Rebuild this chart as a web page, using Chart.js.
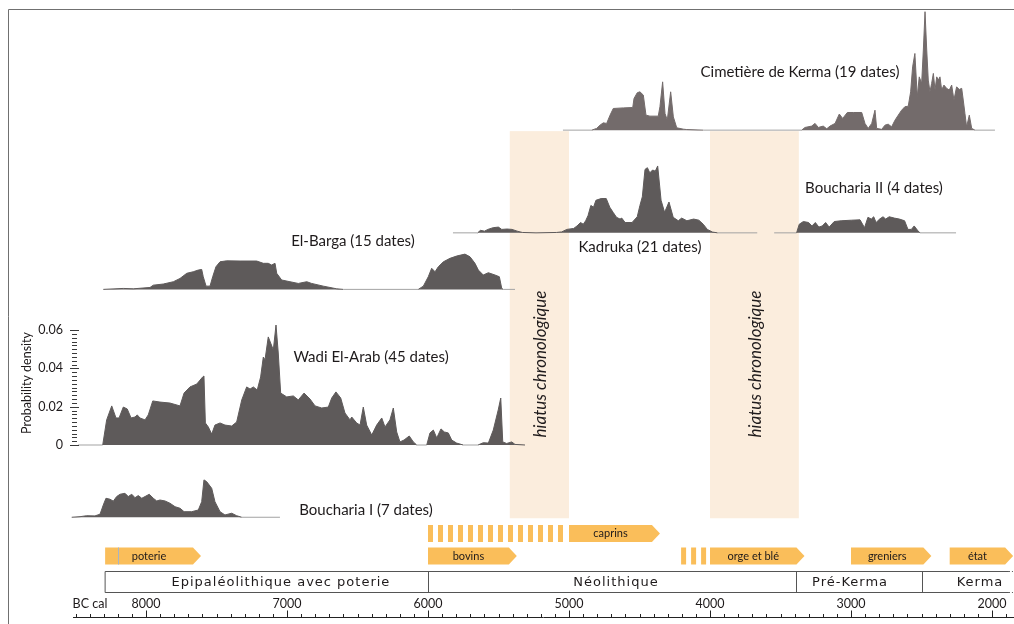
<!DOCTYPE html>
<html>
<head>
<meta charset="utf-8">
<script src="https://cdn.jsdelivr.net/npm/chart.js@4.4.0/dist/chart.umd.min.js"></script>
<style>
  html, body { margin: 0; padding: 0; background: #fff; }
  #wrap { width: 1014px; height: 624px; }
</style>
</head>
<body>
<div id="wrap"><canvas id="chart" width="1014" height="624"></canvas></div>
<script>
// summed probability densities, [year BC cal, density]
var kerma = [[5043,0],[4839,0],[4804,0.0009],[4780,0.0026],[4757,0.0038],[4733,0.0035],[4709,0.0078],[4686,0.0113],[4615,0.0116],[4548,0.0118],[4539,0.0165],[4516,0.0195],[4497,0.0200],[4473,0.0183],[4454,0.0078],[4426,0.0073],[4367,0.0073],[4355,0.0122],[4336,0.0252],[4319,0.0087],[4303,0.0052],[4279,0.0200],[4260,0.0069],[4236,0.0012],[4189,0.0005],[4165,0.0003],[4048,0],[3350,0],[3326,0.0014],[3279,0.0021],[3255,0.0035],[3232,0.0014],[3197,0.0021],[3172,0.0007],[3149,0.0021],[3113,0.0035],[3083,0.0084],[3059,0.0061],[3026,0.0092],[2984,0.0092],[2924,0.0092],[2901,0.0035],[2878,0.0009],[2853,0.0035],[2830,0.0104],[2818,0.0009],[2782,0.0004],[2759,0.0026],[2736,0.0031],[2712,0.0017],[2688,0.0052],[2665,0.0078],[2641,0.0104],[2618,0.0122],[2594,0.0125],[2577,0.0200],[2563,0.0330],[2547,0.0400],[2530,0.0174],[2516,0.0278],[2499,0.0244],[2487,0.0418],[2475,0.0618],[2463,0.0418],[2452,0.0261],[2440,0.0200],[2428,0.0244],[2416,0.0296],[2404,0.0209],[2392,0.0278],[2381,0.0261],[2369,0.0278],[2357,0.0209],[2341,0.0235],[2322,0.0218],[2303,0.0209],[2286,0.0235],[2270,0.0157],[2251,0.0226],[2232,0.0212],[2215,0.0218],[2204,0.0157],[2192,0.0087],[2180,0.0017],[2161,0.0078],[2144,0.0009],[2121,0],[1979,0]];
var kadruka = [[5823,0],[5648,0],[5628,0.0013],[5599,0.0009],[5575,0.0018],[5538,0.0027],[5501,0.0030],[5477,0.0018],[5440,0.0020],[5404,0.0018],[5368,0.0009],[5331,0.0002],[5234,0],[5088,0.0002],[5052,0.0005],[5015,0.0018],[4967,0.0023],[4943,0.0036],[4918,0.0054],[4899,0.0045],[4882,0.0063],[4865,0.0090],[4845,0.0143],[4826,0.0134],[4809,0.0170],[4772,0.0179],[4736,0.0179],[4711,0.0134],[4687,0.0107],[4663,0.0081],[4638,0.0072],[4626,0.0077],[4602,0.0054],[4553,0.0054],[4516,0.0084],[4497,0.0143],[4480,0.0188],[4461,0.0331],[4444,0.0340],[4427,0.0313],[4407,0.0328],[4388,0.0322],[4371,0.0349],[4347,0.0170],[4322,0.0107],[4291,0.0161],[4261,0.0081],[4225,0.0063],[4201,0.0077],[4164,0.0063],[4116,0.0072],[4079,0.0066],[4048,0.0045],[4019,0.0018],[3982,0.0004],[3946,0],[3665,0]];
var boucharia2 = [[3545,0],[3386,0],[3367,0.0045],[3338,0.0059],[3301,0.0054],[3277,0.0036],[3253,0.0054],[3228,0.0030],[3204,0.0036],[3180,0.0054],[3155,0.0030],[3119,0.0059],[3070,0.0063],[2997,0.0066],[2936,0.0068],[2904,0.0027],[2880,0.0081],[2856,0.0072],[2839,0.0084],[2822,0.0054],[2797,0.0072],[2773,0.0084],[2754,0.0072],[2729,0.0084],[2693,0.0077],[2657,0.0072],[2620,0.0063],[2596,0.0018],[2572,0.0018],[2552,0.0036],[2528,0.0013],[2511,0],[2255,0]];
var elBarga = [[8303,0],[8161,0.0005],[8090,0.0003],[7972,0.0010],[7948,0.0022],[7877,0.0028],[7806,0.0040],[7759,0.0057],[7711,0.0084],[7665,0.0092],[7629,0.0101],[7605,0.0104],[7594,0.0066],[7574,0.0017],[7546,0.0017],[7527,0.0066],[7504,0.0118],[7475,0.0144],[7428,0.0149],[7333,0.0148],[7215,0.0148],[7168,0.0136],[7133,0.0136],[7109,0.0127],[7085,0.0136],[7073,0.0084],[7038,0.0049],[6979,0.0040],[6920,0.0031],[6860,0.0040],[6825,0.0031],[6743,0.0017],[6648,0.0003],[6601,0],[6069,0],[6033,0.0017],[5998,0.0066],[5974,0.0110],[5950,0.0092],[5927,0.0118],[5891,0.0144],[5844,0.0162],[5797,0.0174],[5738,0.0184],[5702,0.0170],[5667,0.0136],[5643,0.0101],[5608,0.0075],[5572,0.0087],[5525,0.0075],[5494,0.0066],[5477,0.0005],[5466,0],[5383,0]];
var wadiElArab = [[8482,0],[8307,0],[8279,0.0131],[8243,0.0204],[8213,0.0141],[8191,0.0141],[8161,0.0198],[8133,0.0188],[8106,0.0141],[8078,0.0146],[8062,0.0157],[8043,0.0141],[8007,0.0131],[7984,0.0157],[7952,0.0230],[7901,0.0224],[7830,0.0219],[7759,0.0204],[7730,0.0271],[7688,0.0303],[7640,0.0318],[7598,0.0355],[7589,0.0360],[7579,0.0115],[7558,0.0094],[7534,0.0057],[7511,0.0104],[7475,0.0115],[7440,0.0104],[7392,0.0099],[7357,0.0120],[7321,0.0235],[7286,0.0303],[7262,0.0292],[7239,0.0303],[7211,0.0287],[7187,0.0355],[7168,0.0459],[7156,0.0444],[7133,0.0564],[7116,0.0532],[7097,0.0496],[7078,0.0626],[7062,0.0480],[7045,0.0271],[7002,0.0251],[6955,0.0256],[6920,0.0235],[6879,0.0271],[6837,0.0240],[6801,0.0204],[6754,0.0193],[6707,0.0198],[6683,0.0245],[6653,0.0277],[6619,0.0245],[6589,0.0167],[6553,0.0131],[6541,0.0146],[6506,0.0115],[6482,0.0104],[6459,0.0198],[6435,0.0104],[6399,0.0052],[6364,0.0104],[6328,0.0141],[6305,0.0094],[6270,0.0131],[6246,0.0193],[6222,0.0068],[6199,0.0016],[6170,0.0026],[6133,0.0047],[6104,0.0016],[6080,0],[6009,0],[5986,0.0063],[5962,0.0078],[5938,0.0037],[5908,0.0084],[5884,0.0068],[5856,0.0063],[5832,0.0026],[5797,0.0010],[5750,0],[5645,0],[5608,0.0012],[5572,0.0010],[5537,0.0078],[5502,0.0183],[5484,0.0245],[5470,0.0016],[5442,0.0008],[5406,0.0016],[5383,0.0003],[5312,0]];
var boucharia1 = [[8527,0],[8468,0.0003],[8421,0.0008],[8362,0.0007],[8326,0.0016],[8303,0.0064],[8284,0.0099],[8255,0.0094],[8232,0.0084],[8208,0.0108],[8184,0.0120],[8149,0.0125],[8126,0.0108],[8101,0.0120],[8078,0.0102],[8055,0.0113],[8030,0.0099],[8007,0.0108],[7977,0.0120],[7948,0.0099],[7924,0.0085],[7901,0.0090],[7865,0.0085],[7830,0.0073],[7794,0.0055],[7759,0.0047],[7730,0.0029],[7676,0.0029],[7629,0.0038],[7605,0.0081],[7589,0.0195],[7570,0.0186],[7534,0.0151],[7511,0.0081],[7475,0.0029],[7440,0.0012],[7392,0.0021],[7357,0.0008],[7321,0],[7050,0]];

var siteNames = ['Cimetière de Kerma (19 dates)', 'Kadruka (21 dates)', 'Boucharia II (4 dates)', 'El-Barga (15 dates)', 'Wadi El-Arab (45 dates)', 'Boucharia I (7 dates)'];
var siteSeries = [kerma, kadruka, boucharia2, elBarga, wadiElArab, boucharia1];

var hiatusStart = [5420, 4000];
var hiatusEnd = [5000, 3370];

var arrowLabels = ['poterie', 'bovins', 'caprins', 'orge et blé', 'greniers', 'état'];
var arrowStart = [8290, 6000, 5000, 4000, 3000, 2300];
var arrowEnd = [7610, 5370, 4355, 3330, 2430, 1850];
var arrowRow = [1, 1, 0, 1, 1, 1];
var dashStart = [6000, 4205];
var dashEnd = [5020, 4025];
var dashRow = [0, 1];

var periodNames = ['Epipaléolithique avec poterie', 'Néolithique', 'Pré-Kerma', 'Kerma'];
var periodStart = [8290, 6000, 3390, 2500];
var periodEnd = [6000, 3390, 2500, 1880];
var periodLabelAt = [7043, 4667, 3007, 2085];

var yearTicks = [8000, 7000, 6000, 5000, 4000, 3000, 2000];
var densityTicks = [0, 0.02, 0.04, 0.06];

// layout: vertical offset of each curve (density units), label anchors
var siteBase = [0.1643, 0.1107, 0.1107, 0.0812, 0, -0.0377];
var siteFill = ['#736b6b', '#5e5a5a', '#5e5a5a', '#5e5a5a', '#5e5a5a', '#5e5a5a'];
var labelX = [3362, 4497, 2837, 6532, 6404, 6440];
var labelY = [0.1946, 0.1033, 0.1341, 0.1064, 0.0459, -0.0339];

var TEXT = '#1e1a1b';
var ORANGE = '#fabe5a';

function px(chart, v) { return chart.scales.x.getPixelForValue(v); }
function py(chart, v) { return chart.scales.y.getPixelForValue(v); }

var datasets = siteSeries.map(function (rows, i) {
    var base = siteBase[i];
    return {
        label: siteNames[i],
        data: rows.map(function (r) { return { x: r[0], y: base + r[1] }; }),
        fill: { value: base },
        backgroundColor: siteFill[i],
        borderColor: siteFill[i],
        borderWidth: 1,
        pointRadius: 0,
        tension: 0,
        segment: {
            borderColor: function (c) {
                return (c.p0.parsed.y === base && c.p1.parsed.y === base) ? '#a3a3a3' : undefined;
            }
        }
    };
});

var decor = {
    id: 'decor',
    beforeDatasetsDraw: function (chart) {
        var ctx = chart.ctx;
        ctx.save();
        ctx.strokeStyle = '#707070';
        ctx.lineWidth = 1;
        ctx.beginPath();
        ctx.moveTo(8.5, 624); ctx.lineTo(8.5, 9.5); ctx.lineTo(1014, 9.5);
        ctx.stroke();

        ctx.fillStyle = '#fbeddd';
        var t = py(chart, siteBase[0]) + 1, b = py(chart, siteBase[5]) + 1;
        hiatusStart.forEach(function (s, i) {
            var l = px(chart, s), r = px(chart, hiatusEnd[i]);
            ctx.fillRect(l, t, r - l, b - t);
        });
        ctx.restore();
    },
    afterDatasetsDraw: function (chart) {
        var ctx = chart.ctx;
        ctx.save();
        ctx.fillStyle = TEXT;
        ctx.textBaseline = 'middle';
        ctx.textAlign = 'center';

        // site labels
        ctx.font = '15px Lato';
        siteNames.forEach(function (n, i) {
            ctx.fillText(n, px(chart, labelX[i]), py(chart, labelY[i]));
        });

        // hiatus labels
        ctx.font = 'italic 17px Lato';
        hiatusStart.forEach(function (s, i) {
            var cx = (px(chart, s) + px(chart, hiatusEnd[i])) / 2 + 1;
            ctx.save();
            ctx.translate(cx, 364);
            ctx.rotate(-Math.PI / 2);
            ctx.fillText('hiatus chronologique', 0, 0);
            ctx.restore();
        });

        // density ruler (Wadi El-Arab)
        ctx.strokeStyle = '#3a3a3a';
        ctx.lineWidth = 1;
        ctx.beginPath();
        for (var k = 0; k <= 30; k++) {
            var yy = Math.round(py(chart, k * 0.002)) + 0.5;
            var major = k % 10 === 0;
            ctx.moveTo(major ? 70 : 72, yy);
            ctx.lineTo(major ? 79 : 77, yy);
        }
        ctx.stroke();
        ctx.font = '12.5px Lato';
        ctx.textAlign = 'right';
        densityTicks.forEach(function (v) {
            ctx.fillText(v === 0 ? '0' : v.toFixed(2), 63, py(chart, v));
        });
        ctx.save();
        ctx.translate(27, 383);
        ctx.rotate(-Math.PI / 2);
        ctx.textAlign = 'center';
        ctx.fillText('Probability density', 0, 0);
        ctx.restore();

        // arrows
        var rowY = [533.5, 556], h = 17, tip = 8;
        ctx.font = '11px Lato';
        ctx.textAlign = 'center';
        dashStart.forEach(function (s, i) {
            var l = px(chart, s), r = px(chart, dashEnd[i]);
            ctx.fillStyle = ORANGE;
            for (var x = l; x + 5 <= r; x += 10) ctx.fillRect(x, rowY[dashRow[i]] - h / 2, 5, h);
        });
        arrowLabels.forEach(function (lab, i) {
            var l = px(chart, arrowStart[i]), r = px(chart, arrowEnd[i]), yc = rowY[arrowRow[i]];
            ctx.fillStyle = ORANGE;
            ctx.beginPath();
            ctx.moveTo(l, yc - h / 2);
            ctx.lineTo(r - tip, yc - h / 2);
            ctx.lineTo(r, yc);
            ctx.lineTo(r - tip, yc + h / 2);
            ctx.lineTo(l, yc + h / 2);
            ctx.closePath();
            ctx.fill();
            ctx.fillStyle = TEXT;
            ctx.fillText(lab, (l + r - tip) / 2, yc);
        });
        // pottery marker at 8200
        ctx.strokeStyle = '#a8b4c4';
        ctx.beginPath();
        var pm = Math.round(px(chart, 8200)) + 0.5;
        ctx.moveTo(pm, rowY[1] - h / 2); ctx.lineTo(pm, rowY[1] + h / 2);
        ctx.stroke();

        // period boxes
        var bt = 571.5, bb = 592.5;
        var left = px(chart, periodStart[0]), right = px(chart, periodEnd[3]);
        ctx.strokeStyle = '#555';
        ctx.beginPath();
        ctx.moveTo(right, bt); ctx.lineTo(left, bt); ctx.lineTo(left, bb); ctx.lineTo(right, bb);
        periodStart.forEach(function (s, i) {
            if (i === 0) return;
            var xx = Math.round(px(chart, s)) + 0.5;
            ctx.moveTo(xx, bt); ctx.lineTo(xx, bb);
        });
        ctx.stroke();
        ctx.setLineDash([1, 2]);
        ctx.beginPath();
        ctx.moveTo(right, bt); ctx.lineTo(1014, bt);
        ctx.moveTo(right, bb); ctx.lineTo(1014, bb);
        ctx.stroke();
        ctx.setLineDash([]);
        ctx.fillStyle = TEXT;
        ctx.font = '13px "DejaVu Sans"';
        ctx.letterSpacing = '1px';
        periodNames.forEach(function (n, i) {
            ctx.fillText(n, px(chart, periodLabelAt[i]), 582.5);
        });
        ctx.letterSpacing = '0px';

        // time axis
        var ay = 617.5;
        ctx.strokeStyle = '#222';
        ctx.beginPath();
        ctx.moveTo(73, ay); ctx.lineTo(1014, ay);
        for (var yr = 8500; yr >= 1800; yr -= 100) {
            var tx = Math.round(px(chart, yr)) + 0.5;
            var big = yr % 1000 === 0;
            ctx.moveTo(tx, ay); ctx.lineTo(tx, big ? 610.5 : 614);
        }
        ctx.stroke();
        ctx.font = '12.5px Lato';
        yearTicks.forEach(function (yr) {
            ctx.fillText(String(yr), px(chart, yr), 604);
        });
        ctx.fillText('BC cal', 90, 604);
        ctx.restore();
    }
};

new Chart(document.getElementById('chart'), {
    type: 'line',
    data: { datasets: datasets },
    options: {
        responsive: false,
        animation: false,
        layout: { padding: 0 },
        plugins: {
            legend: { display: false },
            tooltip: { enabled: false }
        },
        scales: {
            x: { type: 'linear', reverse: true, min: 1844, max: 9035.5, display: false },
            y: { type: 'linear', min: -0.0934, max: 0.2322, display: false }
        }
    },
    plugins: [decor]
});
</script>
</body>
</html>
